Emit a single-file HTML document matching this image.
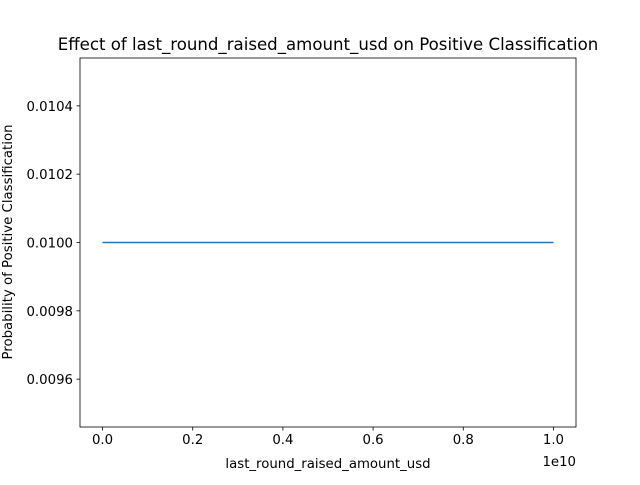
<!DOCTYPE html>
<html><head><meta charset="utf-8"><style>
body{margin:0;background:#fff}
svg text{font-family:"DejaVu Sans","Liberation Sans",sans-serif;fill:#000}
</style></head><body>
<svg id="chart" width="640" height="480" xmlns="http://www.w3.org/2000/svg">
<rect width="640" height="480" fill="#fff"/>
<text x="328" y="50" font-size="16.6" text-anchor="middle">Effect of last_round_raised_amount_usd on Positive Classification</text>
<g id="ticks"></g>
<polyline id="line" fill="none" stroke="#1f77b4" stroke-width="1.5"/>
<rect x="80" y="58" width="496" height="369" fill="none" stroke="#000" stroke-width="0.8"/>
<text x="328" y="468" font-size="13.3" text-anchor="middle">last_round_raised_amount_usd</text>
<text x="576" y="466" font-size="13.3" text-anchor="end">1e10</text>
<text transform="translate(12,242) rotate(-90)" font-size="13.3" text-anchor="middle">Probability of Positive Classification</text>
</svg>
<script>
const xValues=[0,0.1e10,0.2e10,0.3e10,0.4e10,0.5e10,0.6e10,0.7e10,0.8e10,0.9e10,1e10];
const yValues=[0.01,0.01,0.01,0.01,0.01,0.01,0.01,0.01,0.01,0.01,0.01];
const xTicks=[0,0.2,0.4,0.6,0.8,1.0];
const xTickLabels=["0.0","0.2","0.4","0.6","0.8","1.0"];
const yTicks=[0.0096,0.0098,0.0100,0.0102,0.0104];
const yTickLabels=["0.0096","0.0098","0.0100","0.0102","0.0104"];
const L=80,R=576,T=58,B=427;
const xMin=-0.05e10,xMax=1.05e10,yMin=0.00946,yMax=0.01054;
const sx=v=>L+(v-xMin)/(xMax-xMin)*(R-L);
const sy=v=>B-(v-yMin)/(yMax-yMin)*(B-T);
const ns="http://www.w3.org/2000/svg";
const g=document.getElementById('ticks');
function mk(tag,attrs){const e=document.createElementNS(ns,tag);for(const k in attrs)e.setAttribute(k,attrs[k]);g.appendChild(e);return e;}
xTicks.forEach((t,i)=>{const x=sx(t*1e10);
const l=mk('line',{x1:x,x2:x,y1:B,y2:B+3.5,stroke:'#000','stroke-width':0.8});


const tx=mk('text',{x:x,y:B+17,'font-size':13.3,'text-anchor':'middle'});tx.textContent=xTickLabels[i];

});
yTicks.forEach((t,i)=>{const y=sy(t);
const l=mk('line',{x1:L-3.5,x2:L,y1:y,y2:y,stroke:'#000','stroke-width':0.8});


const tx=mk('text',{x:L-7,y:y+5,'font-size':13.3,'text-anchor':'end'});tx.textContent=yTickLabels[i];

});
document.getElementById('line').setAttribute('points',xValues.map((x,i)=>sx(x)+','+sy(yValues[i])).join(' '));
</script>
</body></html>
